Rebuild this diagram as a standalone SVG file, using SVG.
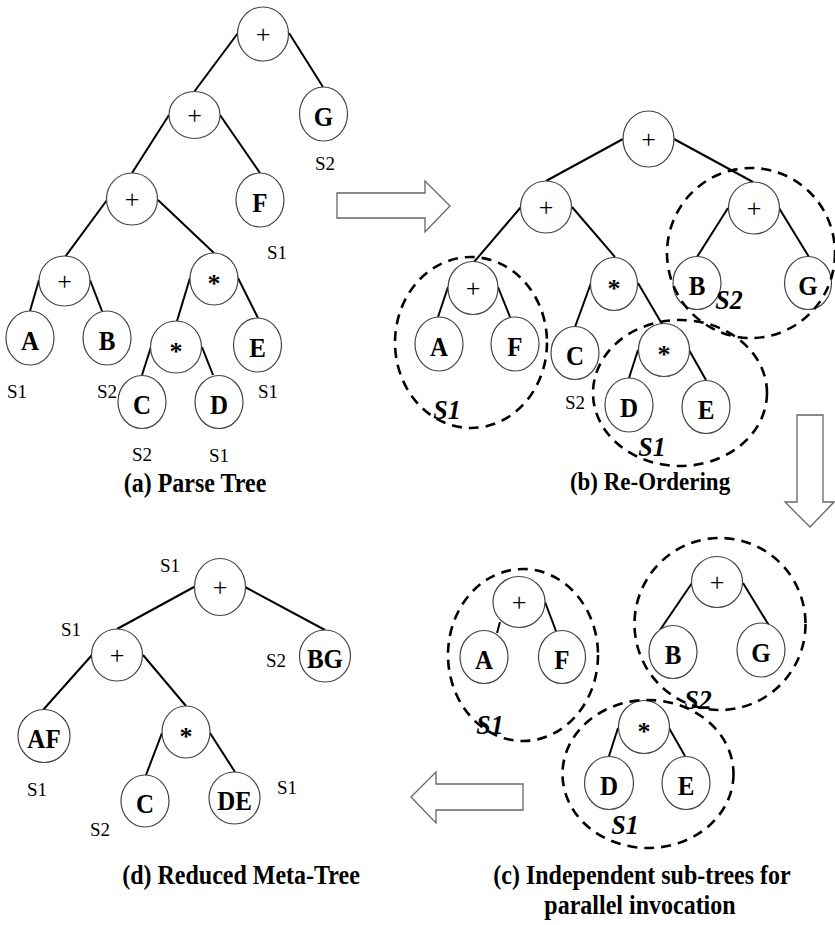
<svg xmlns="http://www.w3.org/2000/svg" width="835" height="925" viewBox="0 0 835 925">
<style>
.n{fill:#fff;stroke:#444;stroke-width:1.2}
.e line{stroke:#000;stroke-width:2}
.g{fill:none;stroke:#000;stroke-width:2.6;stroke-dasharray:10 7}
.ar{fill:#fff;stroke:#666;stroke-width:1.3}
.lt{font-family:"Liberation Serif",serif;font-weight:bold;font-size:25px;text-anchor:middle}
.op{font-family:"Liberation Serif",serif;font-size:26px;text-anchor:middle}
.st{font-family:"Liberation Serif",serif;font-weight:bold;font-size:26px;text-anchor:middle}
.s{font-family:"Liberation Serif",serif;font-size:19px;text-anchor:middle}
.si{font-family:"Liberation Serif",serif;font-weight:bold;font-style:italic;font-size:26px;text-anchor:middle}
.cap{font-family:"Liberation Serif",serif;font-weight:bold;font-size:24px;text-anchor:middle}
</style>
<rect width="835" height="925" fill="#fff"/>

<g id="connectors" class="e">
<!-- (a) -->
<line x1="238" y1="33" x2="194" y2="92"/>
<line x1="289" y1="33" x2="323" y2="87"/>
<line x1="169" y1="115" x2="132" y2="173"/>
<line x1="220" y1="115" x2="260" y2="173"/>
<line x1="107" y1="200" x2="65" y2="257"/>
<line x1="158" y1="200" x2="214" y2="253"/>
<line x1="39" y1="280" x2="30" y2="311"/>
<line x1="90" y1="280" x2="102" y2="311"/>
<line x1="190" y1="278" x2="177" y2="321"/>
<line x1="238" y1="278" x2="258" y2="318"/>
<line x1="151" y1="347" x2="142" y2="375"/>
<line x1="202" y1="347" x2="213" y2="375"/>
<!-- (b) -->
<line x1="623" y1="139" x2="546" y2="181"/>
<line x1="674" y1="139" x2="753" y2="182"/>
<line x1="521" y1="207" x2="474" y2="262"/>
<line x1="572" y1="207" x2="615" y2="257"/>
<line x1="728" y1="208" x2="697" y2="257"/>
<line x1="779" y1="208" x2="809" y2="257"/>
<line x1="448" y1="287" x2="438" y2="317"/>
<line x1="498" y1="287" x2="510" y2="317"/>
<line x1="591" y1="283" x2="575" y2="327"/>
<line x1="638" y1="283" x2="662" y2="324"/>
<line x1="638" y1="350" x2="629" y2="378"/>
<line x1="689" y1="350" x2="706" y2="380"/>
<!-- (c) -->
<line x1="500" y1="622" x2="497" y2="633"/>
<line x1="545" y1="602" x2="556" y2="631"/>
<line x1="692" y1="583" x2="660" y2="630"/>
<line x1="743" y1="583" x2="773" y2="632"/>
<line x1="618" y1="728" x2="609" y2="756"/>
<line x1="669" y1="728" x2="685" y2="756"/>
<!-- (d) -->
<line x1="194" y1="587" x2="117" y2="629"/>
<line x1="245" y1="587" x2="325" y2="630"/>
<line x1="92" y1="655" x2="43" y2="710"/>
<line x1="143" y1="655" x2="186" y2="706"/>
<line x1="162" y1="733" x2="146" y2="775"/>
<line x1="210" y1="733" x2="235" y2="772"/>
</g>

<!-- Panel (a) -->
<g id="a_root"><ellipse class="n" cx="263" cy="34" rx="25.5" ry="27"/><text class="op" x="263" y="43">+</text></g>
<g id="a_plus2"><ellipse class="n" cx="194.5" cy="115" rx="25.5" ry="23.5"/><text class="op" x="194.5" y="124">+</text></g>
<g id="a_G"><ellipse class="n" cx="323.5" cy="114" rx="24" ry="27"/><text class="lt" transform="translate(323.5 126) scale(1 1.12)">G</text></g>
<g id="a_plus3"><ellipse class="n" cx="132" cy="199" rx="25.5" ry="26"/><text class="op" x="132" y="208">+</text></g>
<g id="a_F"><ellipse class="n" cx="260" cy="200" rx="24" ry="27"/><text class="lt" transform="translate(260 212) scale(1 1.12)">F</text></g>
<g id="a_plus4"><ellipse class="n" cx="64.5" cy="281" rx="25.5" ry="25"/><text class="op" x="64.5" y="290">+</text></g>
<g id="a_mul1"><ellipse class="n" cx="214" cy="279" rx="24" ry="26"/><text class="st" x="214" y="292">*</text></g>
<g id="a_A"><ellipse class="n" cx="30" cy="338" rx="24" ry="27"/><text class="lt" transform="translate(30 350) scale(1 1.12)">A</text></g>
<g id="a_B"><ellipse class="n" cx="107" cy="338" rx="24" ry="27"/><text class="lt" transform="translate(107 350) scale(1 1.12)">B</text></g>
<g id="a_mul2"><ellipse class="n" cx="176" cy="347" rx="25.5" ry="26"/><text class="st" x="176" y="360">*</text></g>
<g id="a_E"><ellipse class="n" cx="257.5" cy="345" rx="24" ry="27"/><text class="lt" transform="translate(257.5 357) scale(1 1.12)">E</text></g>
<g id="a_C"><ellipse class="n" cx="142" cy="402" rx="24" ry="26.5"/><text class="lt" transform="translate(142 414) scale(1 1.12)">C</text></g>
<g id="a_D"><ellipse class="n" cx="219" cy="402" rx="24" ry="26.5"/><text class="lt" transform="translate(219 414) scale(1 1.12)">D</text></g>
<g id="a_labels">
<text class="s" x="325" y="170">S2</text>
<text class="s" x="277" y="259">S1</text>
<text class="s" x="17" y="398">S1</text>
<text class="s" x="107" y="398">S2</text>
<text class="s" x="268" y="398">S1</text>
<text class="s" x="142" y="461">S2</text>
<text class="s" x="219" y="462">S1</text>
<text class="cap" transform="translate(195 492) scale(1 1.1)">(a) Parse Tree</text>
</g>

<!-- Panel (b) -->
<g id="b_root"><ellipse class="n" cx="648.5" cy="139" rx="25.5" ry="28"/><text class="op" x="648.5" y="148">+</text></g>
<g id="b_plus2"><ellipse class="n" cx="546" cy="207" rx="25.5" ry="26"/><text class="op" x="546" y="216">+</text></g>
<g id="b_plusR"><ellipse class="n" cx="754" cy="208" rx="25.5" ry="26"/><text class="op" x="754" y="217">+</text></g>
<g id="b_plus3"><ellipse class="n" cx="473" cy="288" rx="25" ry="26.5"/><text class="op" x="473" y="297">+</text></g>
<g id="b_mul1"><ellipse class="n" cx="614" cy="284" rx="23.5" ry="26.5"/><text class="st" x="614" y="297">*</text></g>
<g id="b_B"><ellipse class="n" cx="697" cy="283" rx="24" ry="26.5"/><text class="lt" transform="translate(697 295) scale(1 1.12)">B</text></g>
<g id="b_G"><ellipse class="n" cx="808" cy="283" rx="23.5" ry="26.5"/><text class="lt" transform="translate(808 295) scale(1 1.12)">G</text></g>
<g id="b_A"><ellipse class="n" cx="439" cy="344" rx="24" ry="27"/><text class="lt" transform="translate(439 356) scale(1 1.12)">A</text></g>
<g id="b_F"><ellipse class="n" cx="515" cy="344" rx="24" ry="27"/><text class="lt" transform="translate(515 356) scale(1 1.12)">F</text></g>
<g id="b_C"><ellipse class="n" cx="575" cy="353" rx="24" ry="26.5"/><text class="lt" transform="translate(575 365) scale(1 1.12)">C</text></g>
<g id="b_mul2"><ellipse class="n" cx="664" cy="350" rx="25.5" ry="26.5"/><text class="st" x="664" y="363">*</text></g>
<g id="b_D"><ellipse class="n" cx="629" cy="405" rx="24" ry="27"/><text class="lt" transform="translate(629 417) scale(1 1.12)">D</text></g>
<g id="b_E"><ellipse class="n" cx="706" cy="407" rx="24" ry="26.5"/><text class="lt" transform="translate(706 419) scale(1 1.12)">E</text></g>
<g id="b_groups">
<ellipse class="g" cx="471" cy="342.5" rx="76" ry="85.5"/>
<ellipse class="g" cx="751" cy="253" rx="84" ry="85"/>
<ellipse class="g" cx="680" cy="393" rx="87" ry="73"/>
<text class="si" transform="translate(729 309) scale(1 1.08)">S2</text>
<text class="si" transform="translate(447 419) scale(1 1.08)">S1</text>
<text class="si" transform="translate(652 456) scale(1 1.08)">S1</text>
<text class="s" x="575" y="409">S2</text>
<text class="cap" style="font-size:23px" transform="translate(650 490) scale(1 1.12)">(b) Re-Ordering</text>
</g>

<!-- Panel (c) -->
<g id="c_plus1"><ellipse class="n" cx="519" cy="602" rx="26" ry="25.5"/><text class="op" x="519" y="611">+</text></g>
<g id="c_A"><ellipse class="n" cx="484" cy="657" rx="24" ry="26.5"/><text class="lt" transform="translate(484 669) scale(1 1.12)">A</text></g>
<g id="c_F"><ellipse class="n" cx="562" cy="657" rx="23.5" ry="26.5"/><text class="lt" transform="translate(562 669) scale(1 1.12)">F</text></g>
<g id="c_plus2"><ellipse class="n" cx="717" cy="582" rx="25.5" ry="25.5"/><text class="op" x="717" y="591">+</text></g>
<g id="c_B"><ellipse class="n" cx="673" cy="652" rx="24" ry="26.5"/><text class="lt" transform="translate(673 664) scale(1 1.12)">B</text></g>
<g id="c_G"><ellipse class="n" cx="761" cy="650" rx="24" ry="27"/><text class="lt" transform="translate(761 662) scale(1 1.12)">G</text></g>
<g id="c_mul"><ellipse class="n" cx="644" cy="727" rx="25.5" ry="26.5"/><text class="st" x="644" y="740">*</text></g>
<g id="c_D"><ellipse class="n" cx="609" cy="783" rx="24.5" ry="26.5"/><text class="lt" transform="translate(609 795) scale(1 1.12)">D</text></g>
<g id="c_E"><ellipse class="n" cx="686" cy="783" rx="24" ry="26.5"/><text class="lt" transform="translate(686 795) scale(1 1.12)">E</text></g>
<g id="c_groups">
<ellipse class="g" cx="523" cy="655" rx="75" ry="86"/>
<ellipse class="g" cx="720" cy="624" rx="85.5" ry="86"/>
<ellipse class="g" cx="648" cy="774" rx="85.5" ry="74"/>
<text class="si" transform="translate(490 734) scale(1 1.08)">S1</text>
<text class="si" transform="translate(698 709) scale(1 1.08)">S2</text>
<text class="si" transform="translate(625 834) scale(1 1.08)">S1</text>
<text class="cap" transform="translate(642 884) scale(1 1.1)">(c) Independent sub-trees for</text>
<text class="cap" transform="translate(640 914) scale(1 1.1)">parallel invocation</text>
</g>

<!-- Panel (d) -->
<g id="d_root"><ellipse class="n" cx="220" cy="587" rx="25.5" ry="28.5"/><text class="op" x="220" y="596">+</text></g>
<g id="d_plus"><ellipse class="n" cx="117" cy="655" rx="25.5" ry="26"/><text class="op" x="117" y="664">+</text></g>
<g id="d_BG"><ellipse class="n" cx="325" cy="656" rx="25.5" ry="26"/><text class="lt" transform="translate(325 668) scale(1 1.12)">BG</text></g>
<g id="d_AF"><ellipse class="n" cx="44" cy="736" rx="26" ry="26.5"/><text class="lt" transform="translate(44 748) scale(1 1.12)">AF</text></g>
<g id="d_mul"><ellipse class="n" cx="186" cy="732" rx="24" ry="26"/><text class="st" x="186" y="745">*</text></g>
<g id="d_C"><ellipse class="n" cx="145" cy="801" rx="24" ry="26"/><text class="lt" transform="translate(145 813) scale(1 1.12)">C</text></g>
<g id="d_DE"><ellipse class="n" cx="234.5" cy="798" rx="25.5" ry="26"/><text class="lt" transform="translate(234.5 810) scale(1 1.12)">DE</text></g>
<g id="d_labels">
<text class="s" x="170" y="572">S1</text>
<text class="s" x="71" y="636">S1</text>
<text class="s" x="276" y="667">S2</text>
<text class="s" x="37" y="796">S1</text>
<text class="s" x="100" y="836">S2</text>
<text class="s" x="287" y="794">S1</text>
<text class="cap" transform="translate(241 884) scale(1 1.1)">(d)  Reduced Meta-Tree</text>
</g>

<!-- block arrows -->
<g id="arrow_right"><polygon class="ar" points="337,193 425,193 425,181 450,206 425,232 425,218 337,218"/></g>
<g id="arrow_down"><polygon class="ar" points="797,415 823,415 823,502 834,502 810,527 785,502 797,502"/></g>
<g id="arrow_left"><polygon class="ar" points="523,784 523,810 436,810 436,823 411,797 436,772 436,784"/></g>
</svg>
